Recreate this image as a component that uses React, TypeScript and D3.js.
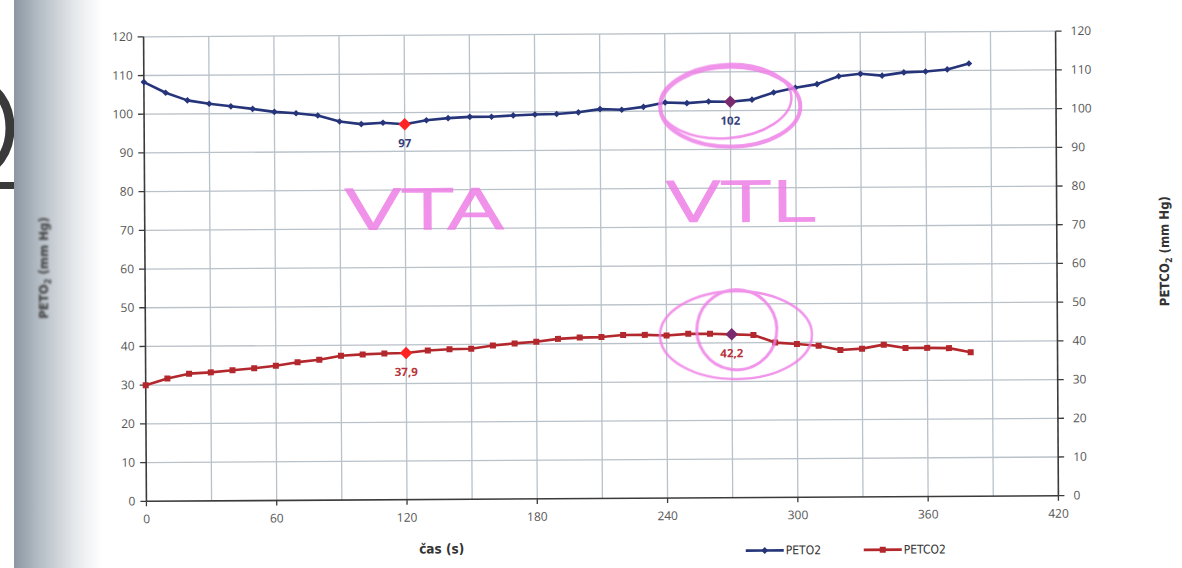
import React, { useEffect } from "react";
import * as d3 from "d3";

// time in seconds
const casS = [0, 10, 20, 30, 40, 50, 60, 70, 80, 90, 100, 110, 120, 130, 140, 150, 160, 170, 180, 190,
  200, 210, 220, 230, 240, 250, 260, 270, 280, 290, 300, 310, 320, 330, 340, 350, 360, 370, 380];

const peto2 = [108.3, 105.5, 103.5, 102.6, 101.9, 101.2, 100.4, 100.0, 99.4, 97.8, 97.1, 97.4, 97.0, 98.0,
  98.5, 98.8, 98.8, 99.1, 99.3, 99.4, 99.8, 100.6, 100.4, 101.1, 102.2, 102.0, 102.4, 102.3, 102.8,
  104.6, 105.8, 106.7, 108.7, 109.3, 108.8, 109.6, 109.8, 110.3, 111.8];

const petco2 = [30.0, 31.7, 32.9, 33.2, 33.7, 34.2, 34.8, 35.7, 36.3, 37.3, 37.6, 37.8, 37.9, 38.5,
  38.8, 38.9, 39.7, 40.2, 40.6, 41.3, 41.6, 41.7, 42.2, 42.2, 42.0, 42.4, 42.4, 42.2, 42.0,
  40.0, 39.6, 39.1, 38.0, 38.3, 39.3, 38.4, 38.4, 38.3, 37.2];

const xTicks = [0, 60, 120, 180, 240, 300, 360, 420];
const xGrid = [30, 60, 90, 120, 150, 180, 210, 240, 270, 300, 330, 360, 390];
const yTicks = [0, 10, 20, 30, 40, 50, 60, 70, 80, 90, 100, 110, 120];

// highlighted points: index into casS, labels as printed
const marks = [
  { i: 12, color: "#ff2424", o2Label: "97", co2Label: "37,9" },
  { i: 27, color: "#7a2a6e", o2Label: "102", co2Label: "42,2" },
];

const navy = "#26357a";
const brick = "#b3282d";
const pink = "#ee7fe6";
const tickFont = "'Open Sans', 'DejaVu Sans', sans-serif";
const narrow = "'Liberation Sans Narrow', 'DejaVu Sans Condensed', sans-serif";

const App = () => {
  useEffect(() => {
    document.body.style.margin = "0";
    document.body.style.overflow = "hidden";
  }, []);

  const x = d3.scaleLinear().domain([0, 420]).range([145, 1057]);
  const y = d3.scaleLinear().domain([0, 120]).range([498.5, 34]);

  const line = d3.line<number>().x((d, i) => x(casS[i])).y(d => y(d));
  const diamond = d3.symbol().type(d3.symbolDiamond2);

  return (
    <svg width={1182} height={568} style={{ display: "block", background: "#fff" }}>
      <defs>
        <linearGradient id="band" x1="0" x2="1" y1="0" y2="0">
          <stop offset="0" stopColor="#8d97a2" />
          <stop offset="0.3" stopColor="#b6bec6" />
          <stop offset="0.7" stopColor="#e6e9ec" />
          <stop offset="1" stopColor="#ffffff" />
        </linearGradient>
      </defs>

      {/* page edge of the scan: piece of a large "2" */}
      <ellipse cx={-22} cy={128} rx={32} ry={44} fill="none" stroke="#3a3a3a" strokeWidth={9} />
      <rect x={0} y={182} width={16} height={7} fill="#3a3a3a" />
      <rect x={14} y={0} width={88} height={568} fill="url(#band)" />
      <text transform="translate(48,268) rotate(-90)" textAnchor="middle" fontSize={13} fontWeight="bold"
        fill="#3d3d3d" fontFamily={narrow} style={{ filter: "blur(1px)" }}>
        PETO<tspan fontSize={9} dy={3}>2</tspan><tspan dy={-3}> (mm Hg)</tspan>
      </text>

      <g transform="rotate(-0.35 600 266)">
        {/* grid */}
        {xGrid.map(t => (
          <line key={"gx" + t} x1={x(t)} x2={x(t)} y1={y(120)} y2={y(0)} stroke="#b9c1c9" strokeWidth={1.3} />
        ))}
        {yTicks.filter(t => t > 0).map(t => (
          <line key={"gy" + t} x1={x(0)} x2={x(420)} y1={y(t)} y2={y(t)} stroke="#b9c1c9" strokeWidth={1.3} />
        ))}

        {/* axes */}
        <line x1={x(0)} x2={x(0)} y1={y(120)} y2={y(0)} stroke="#3b3b3b" strokeWidth={1.6} />
        <line x1={x(420)} x2={x(420)} y1={y(120)} y2={y(0)} stroke="#3b3b3b" strokeWidth={1.6} />
        <line x1={x(0)} x2={x(420)} y1={y(0)} y2={y(0)} stroke="#3b3b3b" strokeWidth={1.6} />
        {yTicks.map(t => (
          <g key={"yt" + t}>
            <line x1={x(0) - 6} x2={x(0)} y1={y(t)} y2={y(t)} stroke="#3b3b3b" strokeWidth={1.3} />
            <text x={x(0) - 11} y={y(t) + 4} textAnchor="end" fontSize={12} fill="#555" fontFamily={tickFont}>{t}</text>
            <line x1={x(420)} x2={x(420) + 6} y1={y(t)} y2={y(t)} stroke="#3b3b3b" strokeWidth={1.3} />
            <text x={x(420) + 15} y={y(t) + 4} fontSize={12} fill="#555" fontFamily={tickFont}>{t}</text>
          </g>
        ))}
        {xTicks.map(t => (
          <g key={"xt" + t}>
            <line x1={x(t)} x2={x(t)} y1={y(0)} y2={y(0) + 5} stroke="#3b3b3b" strokeWidth={1.3} />
            <text x={x(t)} y={y(0) + 22} textAnchor="middle" fontSize={12} fill="#555" fontFamily={tickFont}>{t}</text>
          </g>
        ))}

        {/* series */}
        <path d={line(peto2) || ""} fill="none" stroke={navy} strokeWidth={2.6} strokeLinejoin="round" />
        <path d={line(petco2) || ""} fill="none" stroke={brick} strokeWidth={2.6} strokeLinejoin="round" />
        {peto2.map((v, i) => (
          <path key={"o" + i} d={diamond.size(28)() || ""} transform={`translate(${x(casS[i])},${y(v)})`} fill={navy} />
        ))}
        {petco2.map((v, i) => (
          <rect key={"c" + i} x={x(casS[i]) - 3} y={y(v) - 3} width={6} height={6} fill={brick} />
        ))}

        {/* highlighted points */}
        {marks.map(m => (
          <g key={"m" + m.i}>
            <path d={diamond.size(100)() || ""} transform={`translate(${x(casS[m.i])},${y(peto2[m.i])})`} fill={m.color} />
            <path d={diamond.size(100)() || ""} transform={`translate(${x(casS[m.i])},${y(petco2[m.i])})`} fill={m.color} />
            <text x={x(casS[m.i])} y={y(peto2[m.i]) + 23} textAnchor="middle" fontSize={11.5} fontWeight="bold"
              fill="#34407a" fontFamily={tickFont}>{m.o2Label}</text>
            <text x={x(casS[m.i])} y={y(petco2[m.i]) + 23} textAnchor="middle" fontSize={11.5} fontWeight="bold"
              fill="#b8323a" fontFamily={tickFont}>{m.co2Label}</text>
          </g>
        ))}

        {/* handwritten annotations */}
        <g fill="none" stroke={pink} strokeLinecap="round" opacity={0.85}>
          <ellipse cx={x(270)} cy={y(101)} rx={70} ry={40} strokeWidth={4} />
          <ellipse cx={x(268)} cy={y(102.5)} rx={66} ry={37} strokeWidth={2.5} transform={`rotate(-4 ${x(270)} ${y(101)})`} />
          <ellipse cx={x(272)} cy={y(42)} rx={76} ry={44} strokeWidth={2.5} />
          <ellipse cx={x(272)} cy={y(43)} rx={40} ry={40} strokeWidth={3} transform={`rotate(10 ${x(276)} ${y(42)})`} />
        </g>
        <text x={x(92)} y={y(70)} fontSize={54} fill={pink} stroke={pink} strokeWidth={2.5} opacity={0.85}
          fontFamily="'DejaVu Sans', sans-serif" fontWeight="200" textLength={160} lengthAdjust="spacingAndGlyphs">VTA</text>
        <text x={x(240)} y={y(71.5)} fontSize={54} fill={pink} stroke={pink} strokeWidth={2.5} opacity={0.85}
          fontFamily="'DejaVu Sans', sans-serif" fontWeight="200" textLength={150} lengthAdjust="spacingAndGlyphs">VTL</text>

        {/* axis titles */}
        <text x={440} y={y(0) + 54} textAnchor="middle" fontSize={13.5} fontWeight="bold" fill="#333"
          fontFamily={narrow}>čas (s)</text>
        <text transform={`translate(1169,${y(63)}) rotate(-90)`} textAnchor="middle" fontSize={13} fontWeight="bold"
          fill="#333" fontFamily={narrow}>
          PETCO<tspan fontSize={9} dy={3}>2</tspan><tspan dy={-3}> (mm Hg)</tspan>
        </text>

        {/* legend */}
        <g fontFamily={narrow} fontSize={12} fill="#333">
          <line x1={744} x2={782} y1={y(0) + 53} y2={y(0) + 53} stroke={navy} strokeWidth={2.6} />
          <path d={diamond.size(30)() || ""} transform={`translate(763,${y(0) + 53})`} fill={navy} />
          <text x={784} y={y(0) + 57}>PETO2</text>
          <line x1={862} x2={900} y1={y(0) + 53} y2={y(0) + 53} stroke={brick} strokeWidth={2.6} />
          <rect x={878} y={y(0) + 50} width={6} height={6} fill={brick} />
          <text x={902} y={y(0) + 57}>PETCO2</text>
        </g>
      </g>
    </svg>
  );
};

export default App;
